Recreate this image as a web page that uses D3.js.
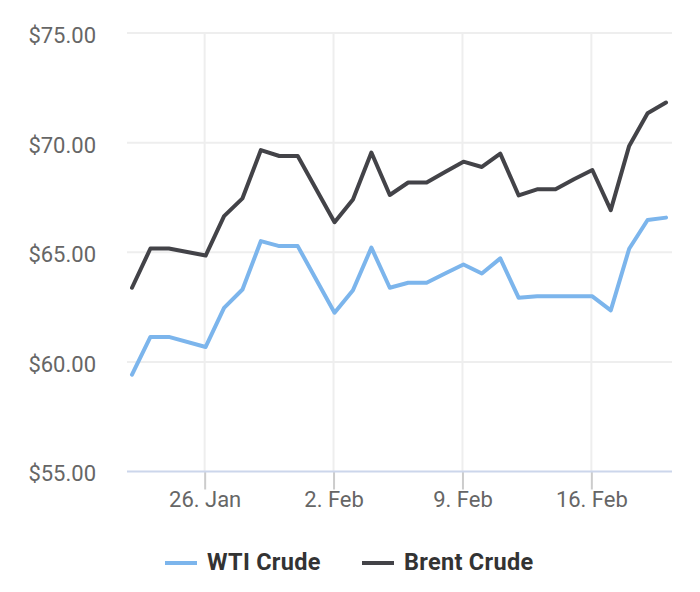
<!DOCTYPE html>
<html>
<head>
<meta charset="utf-8">
<script src="https://cdn.jsdelivr.net/npm/d3@7"></script>
<style>
  html, body { margin: 0; padding: 0; background: #ffffff; }
  svg { display: block; font-family: Roboto, "Noto Sans", sans-serif; }
</style>
</head>
<body>
<svg id="chart" width="700" height="592"></svg>
<script>
// ---- data ----
const dates = [
  "2026-01-22","2026-01-23","2026-01-24","2026-01-26","2026-01-27","2026-01-28",
  "2026-01-29","2026-01-30","2026-01-31","2026-02-02","2026-02-03","2026-02-04",
  "2026-02-05","2026-02-06","2026-02-07","2026-02-08","2026-02-09","2026-02-10",
  "2026-02-11","2026-02-12","2026-02-13","2026-02-14","2026-02-15","2026-02-16",
  "2026-02-17","2026-02-18","2026-02-19","2026-02-20"
];
const wtiValues = [
  59.42, 61.14, 61.14, 60.68, 62.46, 63.30,
  65.51, 65.28, 65.28, 62.24, 63.27, 65.21,
  63.38, 63.61, 63.61, 64.03, 64.44, 64.03,
  64.72, 62.92, 62.99, 62.99, 62.99, 62.99,
  62.35, 65.16, 66.47, 66.58
];
const brentValues = [
  63.38, 65.17, 65.17, 64.85, 66.65, 67.46,
  69.66, 69.39, 69.39, 66.37, 67.41, 69.55,
  67.61, 68.18, 68.18, 68.66, 69.13, 68.89,
  69.50, 67.59, 67.87, 67.87, 68.33, 68.75,
  66.92, 69.85, 71.34, 71.83
];
const yTicks = [55, 60, 65, 70, 75];
const xTickDates = ["2026-01-26","2026-02-02","2026-02-09","2026-02-16"];
const seriesNames = ["WTI Crude", "Brent Crude"];
const seriesColors = ["#7cb5ec", "#434348"];

// ---- layout ----
const svg = d3.select("#chart");
const parse = d3.timeParse("%Y-%m-%d");
const plotLeft = 127, plotRight = 672, plotTop = 33, plotBottom = 471.5;

const x = d3.scaleTime()
  .domain([parse(dates[0]), parse(dates[dates.length - 1])])
  .range([132, 666]);
const y = d3.scaleLinear().domain([55, 75]).range([plotBottom, plotTop]);

// grid: horizontal
svg.append("g").selectAll("line").data(yTicks.filter(v => v !== 55)).join("line")
  .attr("x1", plotLeft).attr("x2", plotRight)
  .attr("y1", d => y(d)).attr("y2", d => y(d))
  .attr("stroke", "#eeeeee").attr("stroke-width", 2);

// grid: vertical
const xTicks = xTickDates.map(parse);
svg.append("g").selectAll("line").data(xTicks).join("line")
  .attr("x1", d => x(d) - 1).attr("x2", d => x(d) - 1)
  .attr("y1", plotTop).attr("y2", plotBottom)
  .attr("stroke", "#eeeeee").attr("stroke-width", 2);

// y axis labels
const yAxis = d3.axisLeft(y).tickValues(yTicks).tickSize(0).tickPadding(0)
  .tickFormat(d => "$" + d3.format(".2f")(d));
const gy = svg.append("g").attr("transform", "translate(96,1)").call(yAxis);
gy.select(".domain").remove();
gy.selectAll("text").attr("font-size", 22).attr("fill", "#666666")
  .attr("font-family", "Roboto, sans-serif").attr("dy", "0.38em");

// x axis
const xAxis = d3.axisBottom(x).tickValues(xTicks).tickSize(18).tickPadding(6)
  .tickFormat(d3.timeFormat("%-d. %b"));
const gx = svg.append("g").attr("transform", `translate(-1,${plotBottom})`).call(xAxis);
gx.select(".domain").remove();
gx.selectAll(".tick line").attr("stroke", "#cccccc").attr("stroke-width", 2);
gx.selectAll("text").attr("font-size", 22).attr("fill", "#666666")
  .attr("font-family", "Roboto, sans-serif").attr("dy", "0.71em").attr("y", 20);
svg.append("line")
  .attr("x1", plotLeft).attr("x2", plotRight)
  .attr("y1", plotBottom).attr("y2", plotBottom)
  .attr("stroke", "#ccd6eb").attr("stroke-width", 2);

// lines
const line = d3.line()
  .x((d, i) => x(parse(dates[i])))
  .y(d => y(d));
[wtiValues, brentValues].forEach((vals, k) => {
  svg.append("path")
    .datum(vals)
    .attr("d", line)
    .attr("fill", "none")
    .attr("stroke", seriesColors[k])
    .attr("stroke-width", 4)
    .attr("stroke-linejoin", "round")
    .attr("stroke-linecap", "round");
});

// legend
const legendX = [165, 362];
const lg = svg.append("g");
seriesNames.forEach((name, k) => {
  lg.append("line")
    .attr("x1", legendX[k]).attr("x2", legendX[k] + 32)
    .attr("y1", 563).attr("y2", 563)
    .attr("stroke", seriesColors[k]).attr("stroke-width", 4);
  lg.append("text")
    .attr("x", legendX[k] + 42).attr("y", 570)
    .attr("font-size", 23.5).attr("font-weight", "bold")
    .attr("letter-spacing", 0.3)
    .attr("fill", "#333333")
    .text(name);
});
</script>
</body>
</html>
